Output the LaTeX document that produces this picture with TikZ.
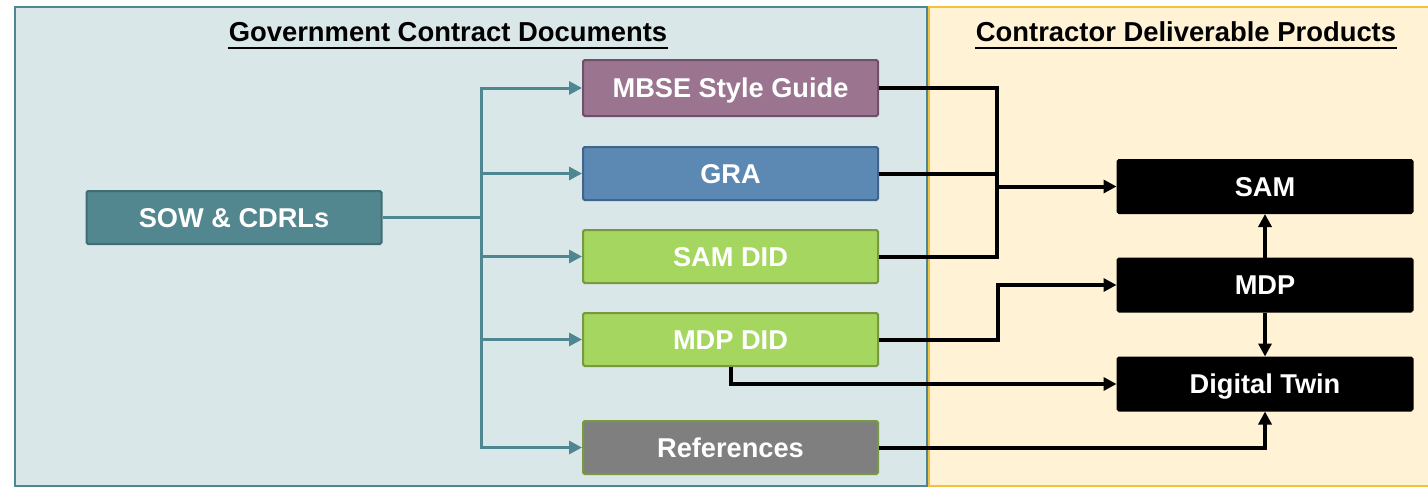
\documentclass[tikz,border=0pt]{standalone}
\usepackage{fontspec}
\setmainfont{Liberation Sans}
\usetikzlibrary{arrows.meta,positioning}

\definecolor{govfill}{HTML}{DAE7E9}
\definecolor{govline}{HTML}{4E8691}
\definecolor{confill}{HTML}{FFF2D5}
\definecolor{conline}{HTML}{F2C23D}
\definecolor{sowfill}{HTML}{52878F}
\definecolor{sowline}{HTML}{3F6E75}
\definecolor{mbsefill}{HTML}{9B7590}
\definecolor{mbseline}{HTML}{6E5068}
\definecolor{grafill}{HTML}{5C89B4}
\definecolor{graline}{HTML}{41648A}
\definecolor{didfill}{HTML}{A5D65F}
\definecolor{didline}{HTML}{77993F}
\definecolor{reffill}{HTML}{7F7F7F}

\tikzset{
  docbox/.style={draw, line width=1pt, rounded corners=0.8pt, minimum width=147.5pt,
    minimum height=26.5pt, inner sep=0pt, text=white, text height=9.75pt, text depth=0pt,
    font=\fontsize{13.6}{16}\selectfont\bfseries},
  prodbox/.style={docbox, draw=black, fill=black},
  title/.style={inner sep=0pt, font=\fontsize{13.7}{16}\selectfont\bfseries},
  tealarrow/.style={draw=govline, line width=1.5pt, -{Triangle[length=6.5pt,width=6.5pt]}},
  blkline/.style={draw=black, line width=2pt},
  blkarrow/.style={blkline, -{Triangle[length=6.5pt,width=6.5pt]}}
}

\begin{document}
\begin{tikzpicture}[x=0.5pt,y=-0.5pt]
\useasboundingbox (0,0) rectangle (1428,487);
\draw[draw=govline, fill=govfill, line width=1.4pt] (15,7) rectangle (927,486); % government side
\fill[confill] (929,7) rectangle (1428,486); % contractor side
\draw[draw=conline, line width=1.2pt] (1428,7) -- (929,7) -- (929,486) -- (1428,486);

% titles
\node[title] (govtitle) at (448,32) {Government Contract Documents};
\node[title] (contitle) at (1186,32) {Contractor Deliverable Products};
\draw[line width=1pt] ([yshift=-3.2pt]govtitle.base west) -- ([yshift=-3.2pt]govtitle.base east); % underline
\draw[line width=1pt] ([yshift=-3.2pt]contitle.base west) -- ([yshift=-3.2pt]contitle.base east); % underline

% government documents
\node[docbox, draw=sowline, fill=sowfill] (sow) at (234,217.5) {SOW \& CDRLs};
\node[docbox, draw=mbseline, fill=mbsefill, minimum height=28pt] (mbse) at (730.5,88) {MBSE Style Guide};
\node[docbox, draw=graline, fill=grafill] (gra) at (730.5,173.5) {GRA};
\node[docbox, draw=didline, fill=didfill] (samdid) at (730.5,256.5) {SAM DID};
\node[docbox, draw=didline, fill=didfill] (mdpdid) at (730.5,339.5) {MDP DID};
\node[docbox, draw=didline, fill=reffill] (refs) at (730.5,447.5) {References};

% contractor products
\node[prodbox] (sam) at (1265,186.5) {SAM};
\node[prodbox] (mdp) at (1265,285) {MDP};
\node[prodbox] (twin) at (1265,384) {Digital Twin};

% sow fans out
\coordinate (trunk) at (481,217.5);
\draw[draw=govline, line width=1.5pt] (sow.east) -- (trunk);
\foreach \doc in {mbse,gra,samdid,mdpdid,refs}
  \draw[tealarrow] (trunk) |- (\doc.west);

% documents into products
\coordinate (join) at (997,186.5);
\draw[blkline] (mbse.east) -| (join);
\draw[blkline] (gra.east) -| (join);
\draw[blkline] (samdid.east) -| (join);
\draw[blkarrow] (join) -- (sam.west);
\draw[blkarrow] (mdpdid.east) -- ++(119,0) |- (mdp.west);
\draw[blkarrow] (mdpdid.south) |- (twin.west);
\draw[blkarrow] (refs.east) -| (twin.south);
\draw[blkarrow] (mdp.north) -- (sam.south);
\draw[blkarrow] (mdp.south) -- (twin.north);

\end{tikzpicture}
\end{document}
